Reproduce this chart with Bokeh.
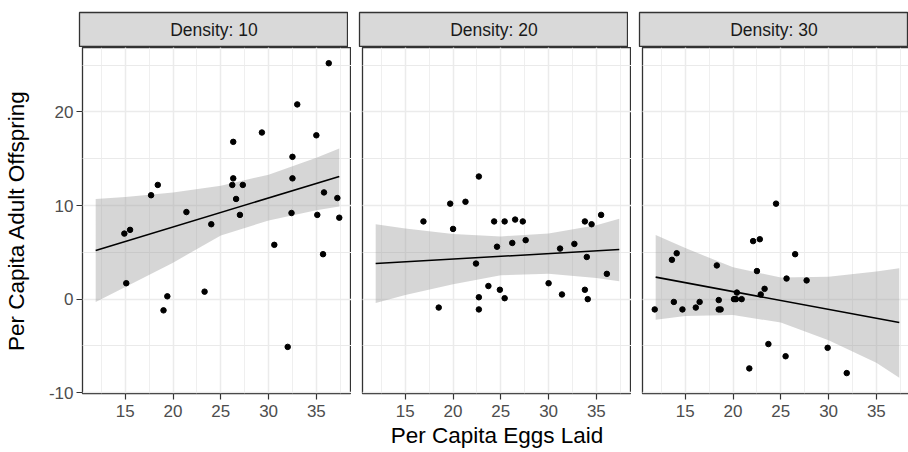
import numpy as np
from bokeh.plotting import figure
from bokeh.models import Range1d, FixedTicker, LinearAxis, Grid, Label
from bokeh.layouts import column, row
from bokeh.embed import file_html
from bokeh.resources import INLINE

# ---------------- data ----------------
strip_labels = ["Density: 10", "Density: 20", "Density: 30"]

eggs_d10 = [36.3, 33.0, 29.3, 35.0, 26.3, 32.5, 18.4, 26.2, 26.3, 27.3, 32.5, 17.7, 35.8, 37.2, 26.6,
            21.4, 32.4, 27.0, 35.1, 37.4, 24.0, 15.5, 14.9, 30.6, 35.7, 15.1, 19.4, 23.3, 19.0, 32.0]
offspring_d10 = [25.2, 20.8, 17.8, 17.5, 16.8, 15.2, 12.2, 12.2, 12.9, 12.2, 12.9, 11.1, 11.4, 10.8, 10.7,
                 9.3, 9.2, 9.0, 9.0, 8.7, 8.0, 7.4, 7.0, 5.8, 4.8, 1.7, 0.3, 0.8, -1.2, -5.1]

eggs_d20 = [22.7, 21.3, 19.7, 35.5, 16.9, 24.3, 25.4, 26.5, 27.3, 33.8, 34.5, 20.0, 27.6, 26.2, 32.7,
            24.6, 31.2, 34.0, 22.4, 36.1, 30.0, 23.7, 24.9, 33.8, 31.4, 22.7, 25.4, 34.1, 18.5, 22.7]
offspring_d20 = [13.1, 10.4, 10.2, 9.0, 8.3, 8.3, 8.3, 8.5, 8.3, 8.3, 8.0, 7.5, 6.3, 6.0, 5.9,
                 5.6, 5.4, 4.5, 3.8, 2.7, 1.7, 1.4, 1.0, 1.0, 0.5, 0.2, 0.1, 0.0, -0.9, -1.1]

eggs_d30 = [24.5, 22.8, 22.1, 14.1, 26.5, 13.6, 18.3, 22.5, 25.6, 27.7, 23.3, 20.4, 22.9, 20.1, 20.3,
            20.9, 18.5, 16.5, 13.8, 16.1, 11.8, 14.7, 18.5, 18.7, 23.7, 29.9, 25.5, 21.7, 31.9]
offspring_d30 = [10.2, 6.4, 6.2, 4.9, 4.8, 4.2, 3.6, 3.0, 2.2, 2.0, 1.1, 0.7, 0.5, 0.0, 0.0,
                 0.0, -0.1, -0.3, -0.3, -0.9, -1.1, -1.1, -1.1, -1.1, -4.8, -5.2, -6.1, -7.4, -7.9]

# fitted lines
fit_x = [11.9, 37.4]
fit_d10 = [5.2, 13.1]
fit_d20 = [3.8, 5.3]
fit_d30 = [2.35, -2.5]

# confidence ribbons
band_x = [11.9, 15, 20, 25, 30, 35, 37.4]
upper_d10 = [10.7, 10.9, 11.4, 12.1, 13.3, 15.1, 16.1]
lower_d10 = [-0.3, 1.3, 3.9, 6.8, 8.4, 9.5, 9.9]
upper_d20 = [8.0, 7.55, 6.95, 6.7, 7.0, 7.9, 8.6]
lower_d20 = [-0.4, 0.45, 1.6, 2.55, 2.7, 2.25, 1.9]
upper_d30 = [6.85, 5.45, 3.4, 2.3, 2.4, 2.95, 3.3]
lower_d30 = [-2.2, -1.8, -1.7, -2.5, -4.4, -6.8, -8.4]

x_ticks = [15, 20, 25, 30, 35]
x_minor = [12.5, 17.5, 22.5, 27.5, 32.5, 37.5]
y_ticks = [-10, 0, 10, 20]
y_tick_labels = ["-10", "0", "10", "20"]
y_minor = [-5, 5, 15, 25]

x_title = "Per Capita Eggs Laid"
y_title = "Per Capita Adult Offspring"

panels = [
    (eggs_d10, offspring_d10, fit_d10, upper_d10, lower_d10),
    (eggs_d20, offspring_d20, fit_d20, upper_d20, lower_d20),
    (eggs_d30, offspring_d30, fit_d30, upper_d30, lower_d30),
]

# ggplot-style 5% expansion of shared scales
all_x = np.concatenate([np.array(pn[0], float) for pn in panels] + [np.array(fit_x, float)])
all_y = np.concatenate([np.array(v, float) for pn in panels for v in (pn[1], pn[2], pn[3], pn[4])])
rx = all_x.max() - all_x.min()
ry = all_y.max() - all_y.min()
x0, x1 = all_x.min() - 0.05 * rx, all_x.max() + 0.05 * rx
y0, y1 = all_y.min() - 0.05 * ry, all_y.max() + 0.05 * ry

# ---------------- layout ----------------
FONT = "Liberation Sans"
FW, FH = 269, 346
LEFT0, GAP = 79, 11
STRIP_H, STRIP_TOP = 35, 12
BOTTOM = 59

strips, plots = [], []
for i, (px, py, fy, up, lo) in enumerate(panels):
    left = LEFT0 if i == 0 else GAP
    s = figure(frame_width=FW, frame_height=STRIP_H, min_border_left=left, min_border_right=0,
               min_border_top=STRIP_TOP, min_border_bottom=0,
               x_range=Range1d(0, 1), y_range=Range1d(0, 1),
               x_axis_location=None, y_axis_location=None,
               toolbar_location=None, output_backend="svg")
    s.background_fill_color = "#D9D9D9"
    s.border_fill_color = "white"
    s.outline_line_color = "#333333"
    s.outline_line_width = 1.3
    s.grid.visible = False
    s.add_layout(Label(x=0.5, y=0.5, text=strip_labels[i], text_align="center",
                       text_baseline="middle", text_font=FONT, text_font_size="17.5px",
                       text_color="#1A1A1A"))
    strips.append(s)

    p = figure(frame_width=FW, frame_height=FH, min_border_left=left, min_border_right=0,
               min_border_top=0, min_border_bottom=BOTTOM,
               x_range=Range1d(x0, x1), y_range=Range1d(y0, y1),
               x_axis_location=None, y_axis_location=None,
               toolbar_location=None, output_backend="svg")
    p.background_fill_color = "white"
    p.border_fill_color = "white"
    p.outline_line_color = "#333333"
    p.outline_line_width = 1.3

    xt = FixedTicker(ticks=x_ticks, minor_ticks=x_minor)
    yt = FixedTicker(ticks=y_ticks, minor_ticks=y_minor)
    for dim, tk in ((0, xt), (1, yt)):
        p.add_layout(Grid(dimension=dim, ticker=tk, grid_line_color="#EBEBEB", grid_line_width=1.5,
                          minor_grid_line_color="#EBEBEB", minor_grid_line_width=0.8))

    xa = LinearAxis(ticker=FixedTicker(ticks=x_ticks))
    xa.axis_line_color = None
    xa.major_tick_in = 0
    xa.major_tick_out = 6
    xa.major_tick_line_color = "#333333"
    xa.major_tick_line_width = 1.2
    xa.minor_tick_line_color = None
    xa.major_label_text_font = FONT
    xa.major_label_text_font_size = "17px"
    xa.major_label_text_color = "#4D4D4D"
    xa.major_label_standoff = 5
    if i == 1:
        xa.axis_label = x_title
        xa.axis_label_text_font = FONT
        xa.axis_label_text_font_size = "22.5px"
        xa.axis_label_text_font_style = "normal"
        xa.axis_label_text_color = "black"
        xa.axis_label_standoff = 3
    p.add_layout(xa, "below")

    if i == 0:
        ya = LinearAxis(ticker=FixedTicker(ticks=y_ticks))
        ya.major_label_overrides = dict(zip(y_ticks, y_tick_labels))
        ya.axis_line_color = None
        ya.major_tick_in = 0
        ya.major_tick_out = 6
        ya.major_tick_line_color = "#333333"
        ya.major_tick_line_width = 1.2
        ya.minor_tick_line_color = None
        ya.major_label_text_font = FONT
        ya.major_label_text_font_size = "17px"
        ya.major_label_text_color = "#4D4D4D"
        ya.major_label_standoff = 3
        ya.axis_label = y_title
        ya.axis_label_text_font = FONT
        ya.axis_label_text_font_size = "22.5px"
        ya.axis_label_text_font_style = "normal"
        ya.axis_label_text_color = "black"
        ya.axis_label_standoff = 17
        p.add_layout(ya, "left")

    p.varea(x=band_x, y1=lo, y2=up, fill_color="#999999", fill_alpha=0.4)
    p.line(x=fit_x, y=fy, line_color="black", line_width=1.6)
    p.scatter(x=px, y=py, size=5.5, fill_color="black", line_color="black")
    plots.append(p)

layout = column(row(*strips), row(*plots))
open("out.html", "w").write(file_html(layout, INLINE))
